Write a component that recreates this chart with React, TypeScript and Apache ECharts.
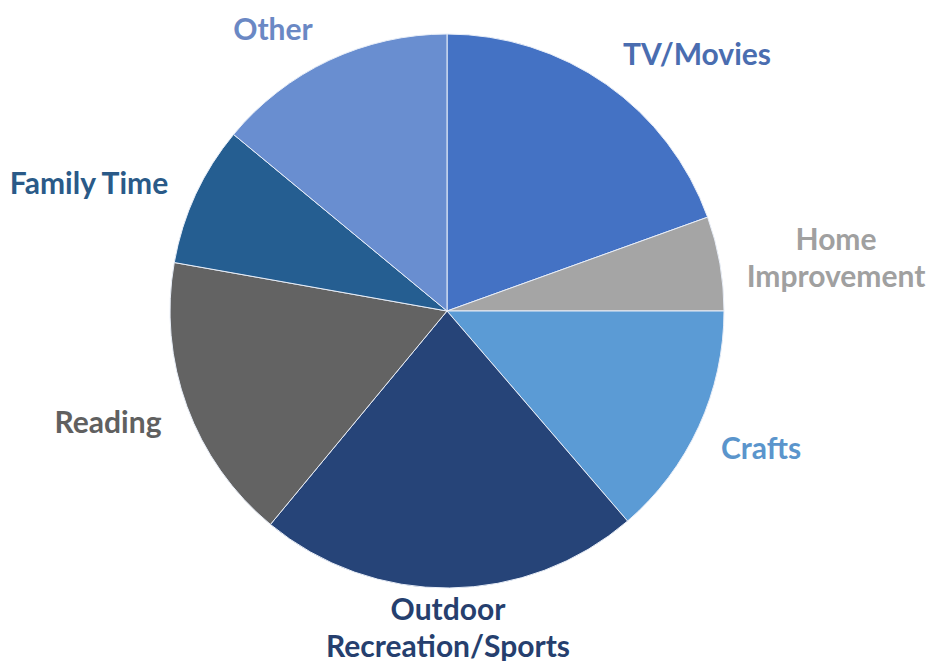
import React, { useEffect, useRef } from "react";
import * as echarts from "echarts";

const categories = [
  "TV/Movies",
  "Home\nImprovement",
  "Crafts",
  "Outdoor\nRecreation/Sports",
  "Reading",
  "Family Time",
  "Other",
];
const values = [19.5, 5.5, 13.7, 22.3, 16.8, 8.2, 14.0];
const colors = ["#4472C4", "#A5A5A5", "#5B9BD5", "#264478", "#636363", "#255E91", "#698ED0"];
const labelColors = ["#4A6DB0", "#A0A0A0", "#5B95CC", "#263F6E", "#606060", "#2A5A88", "#6A88C4"];
// label anchor positions (px) in the chart area
const labelPos: [number, number][] = [
  [697, 53],
  [836, 256],
  [761, 447],
  [448, 626],
  [108, 421],
  [89, 182],
  [273, 28],
];

export default function App() {
  const ref = useRef<HTMLDivElement>(null);
  useEffect(() => {
    if (!ref.current) return;
    const chart = echarts.init(ref.current, undefined, { renderer: "svg" });
    chart.setOption({
      animation: false,
      backgroundColor: "#ffffff",
      series: [
        {
          type: "pie",
          center: [447, 311],
          radius: 277,
          startAngle: 90,
          clockwise: true,
          avoidLabelOverlap: false,
          itemStyle: { borderColor: "#e8eef8", borderWidth: 1 },
          label: {
            show: true,
            position: "outside",
            fontFamily: "Lato",
            fontWeight: "bold",
            fontSize: 30,
            lineHeight: 37,
            align: "center",
            formatter: (p: any) => p.name,
          },
          labelLine: { show: false },
          labelLayout: (p: any) => ({
            x: labelPos[p.dataIndex][0],
            y: labelPos[p.dataIndex][1],
            align: "center",
            verticalAlign: "middle",
          }),
          data: categories.map((c, i) => ({
            name: c,
            value: values[i],
            itemStyle: { color: colors[i] },
            label: { color: labelColors[i] },
          })),
        },
      ],
    });
    return () => chart.dispose();
  }, []);
  return (
    <div
      ref={ref}
      style={{ position: "fixed", left: 0, top: 0, width: 929, height: 661 }}
    />
  );
}
